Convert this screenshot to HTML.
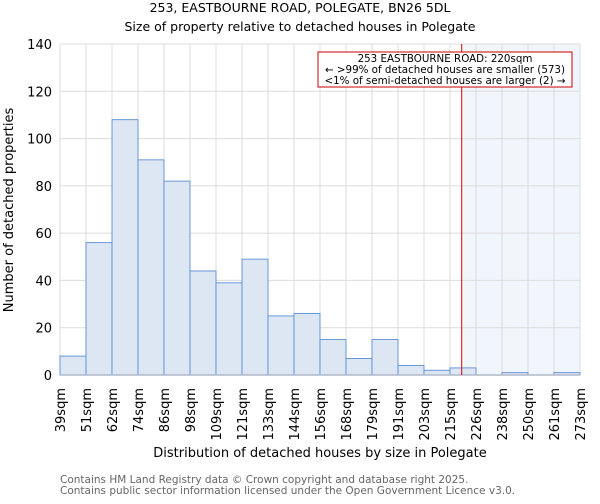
<!DOCTYPE html>
<html><head><meta charset="utf-8"><style>
body{margin:0;background:#fff;font-family:"DejaVu Sans","Liberation Sans",sans-serif;}
</style></head><body>
<svg id="chart" width="600" height="500" xmlns="http://www.w3.org/2000/svg" font-family="DejaVu Sans, Liberation Sans, sans-serif">
<text x="300" y="12" text-anchor="middle" font-size="12.5">253, EASTBOURNE ROAD, POLEGATE, BN26 5DL</text>
<text x="300" y="31" text-anchor="middle" font-size="12.5">Size of property relative to detached houses in Polegate</text>
<g id="grid"></g>
<g id="bars"></g>
<g id="ticks"></g>
<text transform="translate(13,210) rotate(-90)" text-anchor="middle" font-size="13">Number of detached properties</text>
<text x="320" y="457" text-anchor="middle" font-size="13">Distribution of detached houses by size in Polegate</text>
<text x="60" y="483" font-size="10.5" fill="#666">Contains HM Land Registry data © Crown copyright and database right 2025.</text>
<text x="60" y="494" font-size="10.5" fill="#666">Contains public sector information licensed under the Open Government Licence v3.0.</text>
</svg>
<script>
const binLabels=["39sqm","51sqm","62sqm","74sqm","86sqm","98sqm","109sqm","121sqm","133sqm","144sqm","156sqm","168sqm","179sqm","191sqm","203sqm","215sqm","226sqm","238sqm","250sqm","261sqm","273sqm"];
const counts=[8,56,108,91,82,44,39,49,25,26,15,7,15,4,2,3,0,1,0,1];
const yTicks=[0,20,40,60,80,100,120,140];
const markerBin=15.45;
const NS="http://www.w3.org/2000/svg";
const L=60,R=580,T=44,B=375,yMax=140;
const n=counts.length,bw=(R-L)/n;
const xs=i=>L+i*bw, ys=v=>B-v/yMax*(B-T);
function mk(t,a,p){const e=document.createElementNS(NS,t);for(const k in a)e.setAttribute(k,a[k]);p.appendChild(e);return e;}
const grid=document.getElementById('grid'),bars=document.getElementById('bars'),ticks=document.getElementById('ticks');
const mx=xs(markerBin);
const sh=mk('rect',{x:mx,y:T,width:R-mx,height:B-T,fill:'#f1f5fc'},grid);


for(let i=0;i<=n;i++){mk('line',{x1:xs(i),x2:xs(i),y1:T,y2:B,stroke:'#dcdcdc','stroke-width':1},grid);}
yTicks.forEach(v=>{mk('line',{x1:L,x2:R,y1:ys(v),y2:ys(v),stroke:'#dcdcdc','stroke-width':1},grid);
const t=mk('text',{x:L-8,y:ys(v)+5,'text-anchor':'end','font-size':13},ticks);t.textContent=v;

});
counts.forEach((c,i)=>{const r=mk('rect',{x:xs(i),y:ys(c),width:bw,height:B-ys(c),fill:'#dde6f3',stroke:'#5b8fd6','stroke-width':0.9},bars);

});
mk('line',{x1:L,x2:R,y1:B,y2:B,stroke:'#b0b8c8','stroke-width':1.5},bars);
binLabels.forEach((l,i)=>{const x=xs(i)+5;const t=mk('text',{transform:`translate(${x},388) rotate(-90)`,'text-anchor':'end','font-size':13},ticks);t.textContent=l;

});
const ml=mk('line',{x1:mx,x2:mx,y1:T,y2:B,stroke:'#dd0000','stroke-width':1},bars);


const g=mk('g',{},bars);


mk('rect',{x:318,y:52,width:254,height:35,fill:'#fff',stroke:'#cc0000','stroke-width':1},g);
["253 EASTBOURNE ROAD: 220sqm","← >99% of detached houses are smaller (573)","<1% of semi-detached houses are larger (2) →"].forEach((s,k)=>{const t=mk('text',{x:445,y:62+k*11,'text-anchor':'middle','font-size':10.3},g);t.textContent=s;});
</script>
</body></html>
